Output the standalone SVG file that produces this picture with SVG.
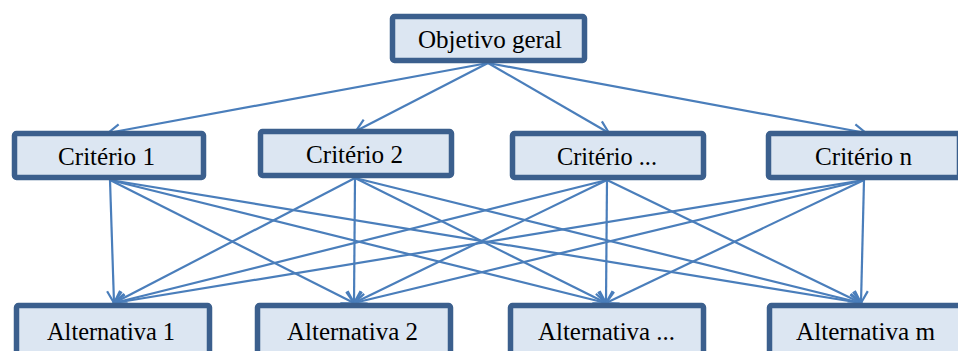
<svg xmlns="http://www.w3.org/2000/svg" width="958" height="351" viewBox="0 0 958 351">
<style>
.box{fill:#dce6f2;stroke:#3b5f8d;stroke-width:5.5}
.t{font-family:'Liberation Serif',serif;font-size:26px;fill:#000}
.c{stroke:#4a7ebb;stroke-width:2.2;fill:none;marker-end:url(#ah)}
</style>
<defs>
<marker id="ah" markerWidth="18" markerHeight="18" refX="14" refY="9" orient="auto" markerUnits="userSpaceOnUse">
<path d="M2,2.5 L14,9 L2,15.5" fill="none" stroke="#4a7ebb" stroke-width="2.2"/>
</marker>
</defs>
<rect width="958" height="351" fill="#fff"/>
<g id="connectors">
<line class="c" x1="488" y1="63" x2="108" y2="133"/>
<line class="c" x1="488" y1="63" x2="356" y2="131"/>
<line class="c" x1="488" y1="63" x2="609" y2="133"/>
<line class="c" x1="488" y1="63" x2="866" y2="133"/>
<line class="c" x1="110" y1="180" x2="114" y2="303"/>
<line class="c" x1="110" y1="180" x2="354" y2="303"/>
<line class="c" x1="110" y1="180" x2="606" y2="303"/>
<line class="c" x1="110" y1="180" x2="861" y2="303"/>
<line class="c" x1="355" y1="178" x2="114" y2="303"/>
<line class="c" x1="355" y1="178" x2="354" y2="303"/>
<line class="c" x1="355" y1="178" x2="606" y2="303"/>
<line class="c" x1="355" y1="178" x2="861" y2="303"/>
<line class="c" x1="607" y1="180" x2="114" y2="303"/>
<line class="c" x1="607" y1="180" x2="354" y2="303"/>
<line class="c" x1="607" y1="180" x2="606" y2="303"/>
<line class="c" x1="607" y1="180" x2="861" y2="303"/>
<line class="c" x1="864" y1="180" x2="114" y2="303"/>
<line class="c" x1="864" y1="180" x2="354" y2="303"/>
<line class="c" x1="864" y1="180" x2="606" y2="303"/>
<line class="c" x1="864" y1="180" x2="861" y2="303"/>
</g>
<g id="objetivo"><rect class="box" x="392.5" y="16.5" width="192" height="44" rx="2"/><text class="t" x="418" y="48" textLength="144" lengthAdjust="spacingAndGlyphs">Objetivo geral</text></g>
<g id="criterio1"><rect class="box" x="14.5" y="133.5" width="189" height="44" rx="2"/><text class="t" x="58" y="165" textLength="97" lengthAdjust="spacingAndGlyphs">Critério 1</text></g>
<g id="criterio2"><rect class="box" x="260.5" y="131.5" width="191" height="44" rx="2"/><text class="t" x="306" y="163" textLength="97" lengthAdjust="spacingAndGlyphs">Critério 2</text></g>
<g id="criterio3"><rect class="box" x="512.5" y="133.5" width="191" height="44" rx="2"/><text class="t" x="557" y="165" textLength="100" lengthAdjust="spacingAndGlyphs">Critério ...</text></g>
<g id="criterion"><rect class="box" x="768.5" y="133.5" width="191" height="44" rx="2"/><text class="t" x="815" y="165" textLength="97" lengthAdjust="spacingAndGlyphs">Critério n</text></g>
<g id="alt1"><rect class="box" x="16.5" y="305.5" width="193" height="60" rx="2"/><text class="t" x="47" y="340" textLength="128" lengthAdjust="spacingAndGlyphs">Alternativa 1</text></g>
<g id="alt2"><rect class="box" x="257.5" y="305.5" width="193" height="60" rx="2"/><text class="t" x="287" y="340" textLength="131" lengthAdjust="spacingAndGlyphs">Alternativa 2</text></g>
<g id="alt3"><rect class="box" x="510.5" y="305.5" width="193" height="60" rx="2"/><text class="t" x="538" y="340" textLength="137" lengthAdjust="spacingAndGlyphs">Alternativa ...</text></g>
<g id="altm"><rect class="box" x="769.5" y="305.5" width="193" height="60" rx="2"/><text class="t" x="796" y="340" textLength="139" lengthAdjust="spacingAndGlyphs">Alternativa m</text></g>
</svg>
